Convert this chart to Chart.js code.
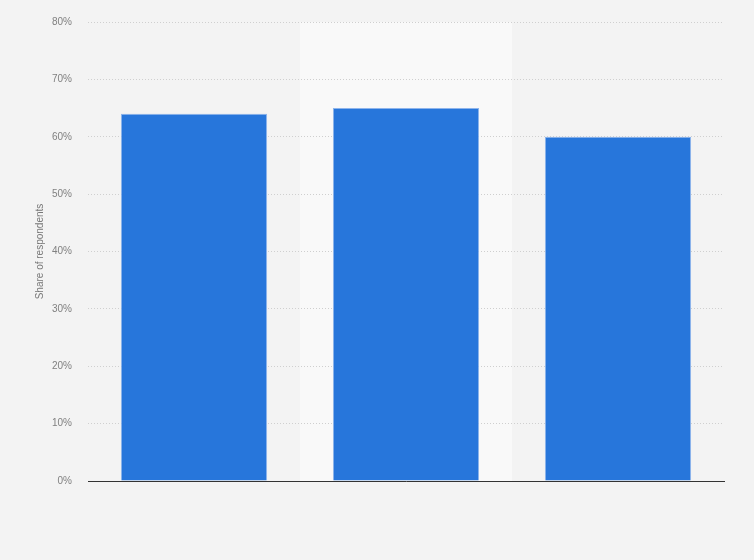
<!DOCTYPE html>
<html>
<head>
<meta charset="utf-8">
<script src="https://cdn.jsdelivr.net/npm/chart.js@4.4.0/dist/chart.umd.min.js"></script>
<style>
  html, body { margin: 0; padding: 0; background: #f3f3f3; }
  #wrap { width: 754px; height: 560px; }
</style>
</head>
<body>
<div id="wrap"><canvas id="chart"></canvas></div>
<script>
// --- Datos ---
const categories = ["", " ", "  "];
const shares = [64, 65, 60];
const yTicks = [0, 10, 20, 30, 40, 50, 60, 70, 80];
const highlightIndex = 1;

// Banda clara detrás de la categoría central
const bandPlugin = {
  id: "band",
  beforeDraw(chart) {
    const { ctx, chartArea, scales } = chart;
    const x = scales.x;
    const half = (x.getPixelForValue(1) - x.getPixelForValue(0)) / 2;
    const cx = x.getPixelForValue(highlightIndex);
    ctx.save();
    ctx.fillStyle = "#f9f9f9";
    ctx.fillRect(cx - half, chartArea.top, half * 2, chartArea.bottom - chartArea.top);
    ctx.restore();
  },
};

new Chart(document.getElementById("chart"), {
  type: "bar",
  data: {
    labels: categories,
    datasets: [{
      data: shares,
      backgroundColor: "#2776db",
      borderColor: "#8db4ec",
      borderWidth: 1,
      barPercentage: 0.69,
      categoryPercentage: 1,
    }],
  },
  options: {
    responsive: true,
    maintainAspectRatio: false,
    animation: false,
    layout: { padding: { left: 0, right: 30, top: 18, bottom: 79 } },
    plugins: { legend: { display: false }, tooltip: { enabled: false } },
    scales: {
      x: {
        ticks: { display: false },
        grid: { display: false, drawTicks: false },
        border: { display: true, color: "#333", width: 1 },
        afterFit: s => { s.height = 0; },
      },
      y: {
        min: 0,
        max: 80,
        afterBuildTicks: s => { s.ticks = yTicks.map(v => ({ value: v })); },
        ticks: {
          padding: 16,
          color: "#808080",
          font: { family: "'Liberation Sans', Arial, sans-serif", size: 10 },
          callback: v => `${v}%`,
        },
        grid: { color: "#cfcfcf", drawTicks: false, lineWidth: 1 },
        border: { display: false, dash: [1, 2] },
        title: {
          display: true,
          text: "Share of respondents",
          color: "#777",
          font: { family: "'Liberation Sans', Arial, sans-serif", size: 10 },
          padding: { top: 34, bottom: 0 },
        },
        afterFit: s => { s.width = 88; },
      },
    },
  },
  plugins: [bandPlugin],
});
</script>
</body>
</html>
